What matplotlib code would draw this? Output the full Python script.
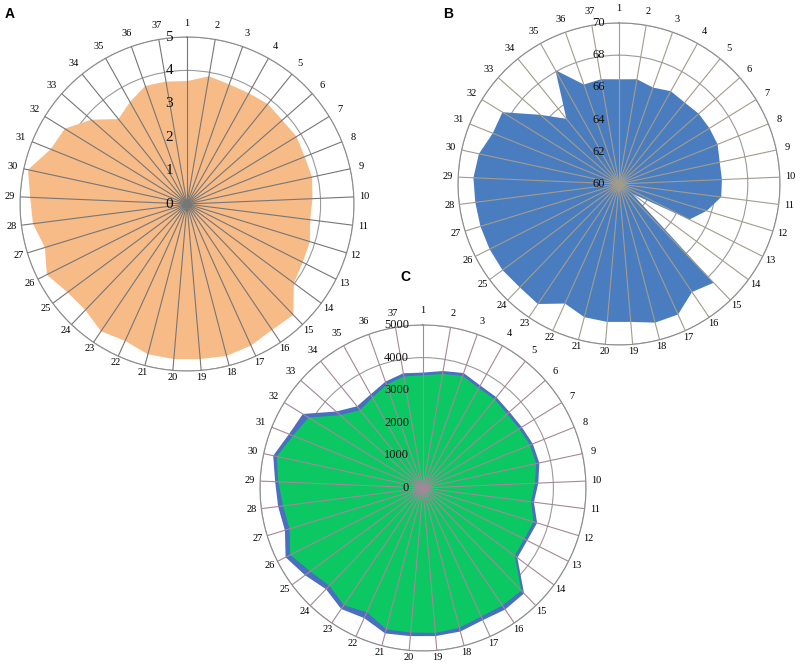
import matplotlib.pyplot as plt
import numpy as np
from matplotlib.transforms import offset_copy

plt.rcParams['font.family'] = ['Liberation Serif', 'DejaVu Serif']

categories = [str(i) for i in range(1, 38)]

# panel A
a_values = [3.68, 3.88, 3.80, 3.80, 3.85, 3.80, 3.85, 3.80, 3.83, 3.76,
            3.72, 3.85, 3.88, 3.98, 4.60, 4.55, 4.65, 4.70, 4.66, 4.66,
            4.65, 4.50, 4.60, 4.40, 4.45, 4.70, 4.45, 4.65, 4.70, 4.87,
            4.40, 4.30, 3.82, 3.27, 3.50, 3.75, 3.72]
a_ticks = [0, 1, 2, 3, 4, 5]

# panel B
b_values = [66.5, 66.6, 66.35, 66.6, 66.5, 66.6, 66.6, 66.6, 66.4, 66.4,
            66.4, 65.7, 64.9, 61.0, 68.5, 68.1, 68.9, 68.9, 68.6, 68.6,
            68.55, 68.15, 69.0, 68.9, 69.0, 69.0, 69.0, 69.0, 69.05, 68.9,
            68.45, 68.5, 66.5, 65.2, 68.1, 66.55, 66.6]
b_ticks = [60, 62, 64, 66, 68, 70]

# panel C, two series
c_blue = [3540, 3640, 3740, 3600, 3580, 3530, 3560, 3630, 3650, 3540,
          3430, 3660, 3580, 3600, 4480, 4500, 4450, 4550, 4560, 4560,
          4610, 4380, 4480, 4300, 4500, 4720, 4430, 4480, 4540, 4700,
          4430, 4330, 3550, 3220, 3290, 3460, 3570]
c_green = [3460, 3550, 3650, 3510, 3500, 3440, 3470, 3540, 3550, 3440,
           3340, 3550, 3480, 3500, 4360, 4350, 4330, 4430, 4460, 4450,
           4480, 4180, 4340, 4150, 4300, 4560, 4280, 4330, 4440, 4590,
           4300, 4120, 3380, 3070, 3180, 3360, 3470]
c_ticks = [0, 1000, 2000, 3000, 4000, 5000]

n = len(categories)
theta = np.arange(n) * 2 * np.pi / n


def radar(fig, rect, radius_px, series, colors, ticks, spoke_color, tick_fs):
    ax = fig.add_axes(rect, projection='polar')
    ax.set_theta_zero_location('N')
    ax.set_theta_direction(-1)
    rmin, rmax = ticks[0], ticks[-1]
    ax.set_ylim(rmin, rmax)
    ax.set_xticks([])
    ax.set_yticks(ticks)
    ax.set_yticklabels([])
    ax.set_axisbelow(True)
    ax.yaxis.grid(True, color='#9a9a9a', lw=0.8)
    ax.xaxis.grid(False)
    ax.spines['polar'].set_color('#8c8c8c')
    ax.spines['polar'].set_linewidth(0.8)

    th = np.append(theta, theta[0])
    for vals, col in zip(series, colors):
        v = np.append(vals, vals[0])
        ax.fill(th, v, color=col, lw=0, zorder=2)

    # spokes drawn over the fill
    for t in theta:
        ax.plot([t, t], [rmin, rmax], color=spoke_color, lw=0.8, zorder=3)

    # category labels, a bit further out at the top than at the bottom
    for t, lab in zip(theta, categories):
        gap = 10.5 + 3.5 * np.cos(t)
        rl = rmin + (rmax - rmin) * (1 + gap / radius_px)
        ax.text(t, rl, lab, ha='center', va='center', fontsize=7.5,
                clip_on=False)

    # ring labels next to the first spoke
    tr = offset_copy(ax.transData, fig=fig, x=-10, y=0, units='points')
    for tk in ticks:
        ax.text(0, tk, str(tk), transform=tr, ha='right', va='center',
                fontsize=tick_fs, color='#111111', zorder=4)
    return ax


fig = plt.figure(figsize=(8, 6.67), dpi=100)

radar(fig, [0.025, 0.4438, 0.4175, 0.5007], 167, [a_values], ['#F7BB88'],
      a_ticks, '#767676', 11)
radar(fig, [0.5725, 0.4828, 0.4025, 0.4828], 161, [b_values], ['#4A7DBF'],
      b_ticks, '#a39c8c', 9)
radar(fig, [0.325, 0.024, 0.4075, 0.4888], 163, [c_blue, c_green],
      ['#4A6EC0', '#0CC862'], c_ticks, '#a5879a', 9)

for x, y, s in [(10, 14, 'A'), (448, 14, 'B'), (405, 277, 'C')]:
    fig.text(x / 800, 1 - y / 667, s, fontfamily='Liberation Sans',
             fontweight='bold', fontsize=10, ha='center', va='center')

fig.savefig('out.png', dpi=100)
